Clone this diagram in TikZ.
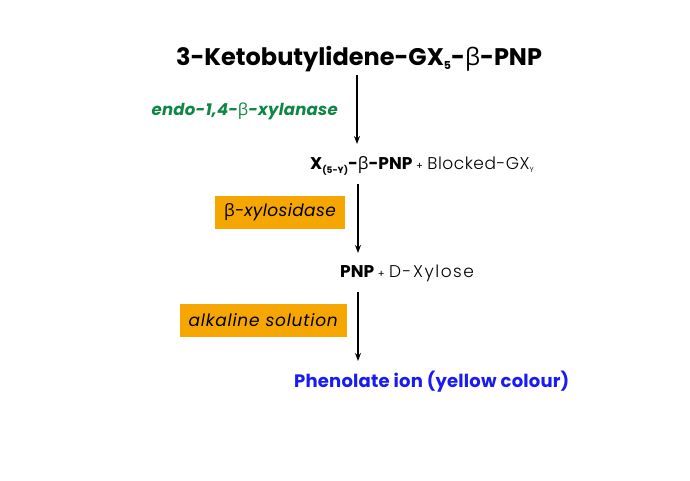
\documentclass[tikz,border=0pt]{standalone}
\usepackage{fontspec}
\setmainfont{Poppins}
\newfontfamily\lightf{Poppins Light}
\newfontfamily\gk{Open Sans}
\usetikzlibrary{arrows.meta}
\definecolor{orangebox}{RGB}{245,166,0}
\definecolor{greentxt}{RGB}{14,135,68}
\definecolor{bluetxt}{RGB}{26,26,245}
\newcommand{\lowsub}[2]{\raisebox{-#1}{\fontsize{#2}{#2}\selectfont}}
\newcommand{\subtxt}[3]{\raisebox{-#1}{\fontsize{#2}{#2}\selectfont #3}}
\tikzset{
  flow/.style={line width=1.3pt,-{Stealth[length=8pt,width=6pt]}},
  boxlabel/.style={fill=orangebox,minimum height=33pt,inner xsep=9pt,anchor=east},
  txt/.style={inner sep=0pt,font=\fontsize{17}{20}\selectfont}
}
\begin{document}
\begin{tikzpicture}[x=1pt,y=-1pt]
\useasboundingbox[fill=white] (0,0) rectangle (690,480);
\node[inner sep=0pt,font=\fontsize{24}{28}\selectfont\bfseries] (title) at (359,59)
  {3-Ketobutylidene-GX\subtxt{4pt}{11}{5}-{\gk\mdseries β}-PNP};
\node[txt,anchor=east,text=greentxt,font=\fontsize{16.5}{20}\selectfont\bfseries\itshape\addfontfeature{LetterSpace=1.5}] (enz1) at (338,111)
  {endo-1,4-{\gk\mdseries\upshape β}-xylanase};
\node[txt,anchor=west] (p1) at (310,166)
  {\bfseries X\subtxt{4pt}{9}{(5-Y)}-{\gk\mdseries β}-PNP \mdseries{\fontsize{10}{12}\selectfont +} {\lightf\addfontfeature{LetterSpace=3}Blocked-GX\subtxt{3pt}{7.5}{Y}}};
\node[boxlabel,font=\fontsize{17}{20}\selectfont\itshape\addfontfeature{LetterSpace=2}] (enz2) at (345,212) {{\gk\upshape β}-xylosidase};
\node[txt,anchor=west] (p2) at (340,273)
  {\bfseries PNP \mdseries{\fontsize{10}{12}\selectfont +} {\lightf\addfontfeature{LetterSpace=9}D-Xylose}};
\node[boxlabel,font=\fontsize{17}{20}\selectfont\itshape\addfontfeature{LetterSpace=4.5}] (enz3) at (347,320) {alkaline solution};
\node[txt,text=bluetxt,font=\fontsize{18}{22}\selectfont\bfseries\addfontfeature{LetterSpace=1},anchor=west] (p3) at (294,382)
  {Phenolate ion (yellow colour)};
\coordinate (a1s) at (357,75);
\coordinate (a1e) at (357,144);
\coordinate (a2s) at (358,184);
\coordinate (a2e) at (358,253);
\coordinate (a3s) at (358,292);
\coordinate (a3e) at (358,361);
\draw[flow] (a1s) -- (a1e);
\draw[flow] (a2s) -- (a2e);
\draw[flow] (a3s) -- (a3e);
\end{tikzpicture}
\end{document}
